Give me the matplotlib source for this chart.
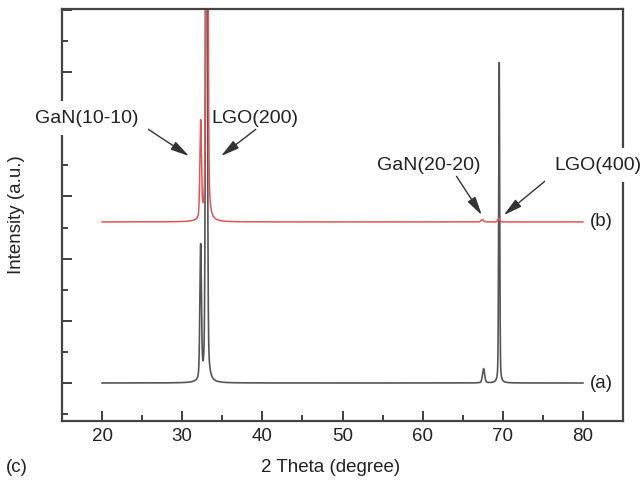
import numpy as np
import matplotlib
matplotlib.use("Agg")
import matplotlib.pyplot as plt
from matplotlib.ticker import MultipleLocator

plt.rcParams["font.family"] = ["Liberation Sans", "DejaVu Sans"]

# ── Data ──────────────────────────────────────────────────────────────────────
# scan range, 2-theta in degrees
TWO_THETA_START = 20.0
TWO_THETA_END   = 80.0

# peak positions (2 theta), heights (a.u. above baseline), FWHM (deg)
PEAK_POS_A    = [32.30, 33.02, 67.60, 69.55]
PEAK_HEIGHT_A = [4.30, 25.0, 0.46, 10.3]
PEAK_FWHM_A   = [0.23, 0.23, 0.32, 0.15]

PEAK_POS_B    = [32.30, 33.08, 67.45, 69.50]
PEAK_HEIGHT_B = [3.10, 30.0, 0.08, 0.12]
PEAK_FWHM_B   = [0.23, 0.23, 0.35, 0.25]

BASELINE_A = 0.0
BASELINE_B = 5.18

PEAK_LABELS = ["GaN(10-10)", "LGO(200)", "GaN(20-20)", "LGO(400)"]
CURVE_LABELS = ["(a)", "(b)"]

X_TICKS = [20, 30, 40, 50, 60, 70, 80]


def profile(x, positions, heights, fwhms, eta=0.3):
    """Pseudo-Voigt sum of the listed reflections."""
    y = np.zeros_like(x)
    for p, h, w in zip(positions, heights, fwhms):
        hw = w / 2.0
        gauss = np.exp(-np.log(2) * ((x - p) / hw) ** 2)
        lorentz = hw ** 2 / (hw ** 2 + (x - p) ** 2)
        y += h * ((1 - eta) * gauss + eta * lorentz)
    return y


x = np.linspace(TWO_THETA_START, TWO_THETA_END, 30001)
y_a = BASELINE_A + profile(x, PEAK_POS_A, PEAK_HEIGHT_A, PEAK_FWHM_A)
y_b = BASELINE_B + profile(x, PEAK_POS_B, PEAK_HEIGHT_B, PEAK_FWHM_B)

# ── Figure ─────────────────────────────────────────────────────────────────────
fig = plt.figure(figsize=(6.44, 4.88), dpi=100)
ax = fig.add_axes([0.0963, 0.1373, 0.8711, 0.8443])

ax.plot(x, y_a, color="#555555", linewidth=1.2, zorder=2)
ax.plot(x, y_b, color="#e05555", linewidth=1.1, zorder=2.2)

ax.set_xlim(15, 85)
ax.set_ylim(-1.222, 12.03)

ax.set_xticks(X_TICKS)
ax.xaxis.set_minor_locator(MultipleLocator(5))
ax.yaxis.set_major_locator(MultipleLocator(2))
ax.yaxis.set_minor_locator(MultipleLocator(1))
ax.set_yticklabels([])
ax.tick_params(which="both", direction="in", colors="#333333",
               top=False, right=False, width=1.3)
ax.tick_params(which="major", length=7, labelsize=13.5, pad=5,
               labelcolor="#222222")
ax.tick_params(which="minor", length=4)

for spine in ax.spines.values():
    spine.set_color("#444444")
    spine.set_linewidth(1.6)

ax.set_xlabel("2 Theta (degree)", fontsize=13.5, color="#222222")
ax.xaxis.set_label_coords(0.4795, -0.092)
ax.set_ylabel("Intensity (a.u.)", fontsize=13.5, color="#222222")
ax.yaxis.set_label_coords(-0.066, 0.5)

fig.text(0.009, 0.041, "(c)", fontsize=13.5, color="#222222",
         ha="left", va="center")

# ── Peak labels ───────────────────────────────────────────────────────────────
arrow = dict(arrowstyle="-|>,head_length=0.8,head_width=0.2",
             color="#333333", lw=1.0, shrinkA=0, shrinkB=0)
white_box = dict(boxstyle="square,pad=0.45", facecolor="white",
                 edgecolor="none")

ax.annotate(PEAK_LABELS[0], xy=(30.85, 7.30), xytext=(18.13, 8.52),
            fontsize=14, ha="center", va="center", color="#222222",
            bbox=white_box, zorder=4,
            arrowprops=dict(arrow, relpos=(1.0, 0.2)))
ax.annotate(PEAK_LABELS[1], xy=(34.84, 7.30), xytext=(39.08, 8.52),
            fontsize=14, ha="center", va="center", color="#222222",
            zorder=4, arrowprops=dict(arrow, relpos=(0.55, 0.0)))
ax.annotate(PEAK_LABELS[2], xy=(67.38, 5.40), xytext=(60.77, 7.01),
            fontsize=14, ha="center", va="center", color="#222222",
            zorder=4, arrowprops=dict(arrow, relpos=(0.75, 0.0)))
ax.annotate(PEAK_LABELS[3], xy=(70.12, 5.40), xytext=(81.85, 7.01),
            fontsize=14, ha="center", va="center", color="#222222",
            bbox=white_box, zorder=4, annotation_clip=False,
            arrowprops=dict(arrow, relpos=(0.0, 0.0)))

ax.text(80.85, BASELINE_A, CURVE_LABELS[0], fontsize=13.5, color="#222222",
        ha="left", va="center")
ax.text(80.85, BASELINE_B, CURVE_LABELS[1], fontsize=13.5, color="#222222",
        ha="left", va="center")

fig.savefig("out.png", dpi=100)
